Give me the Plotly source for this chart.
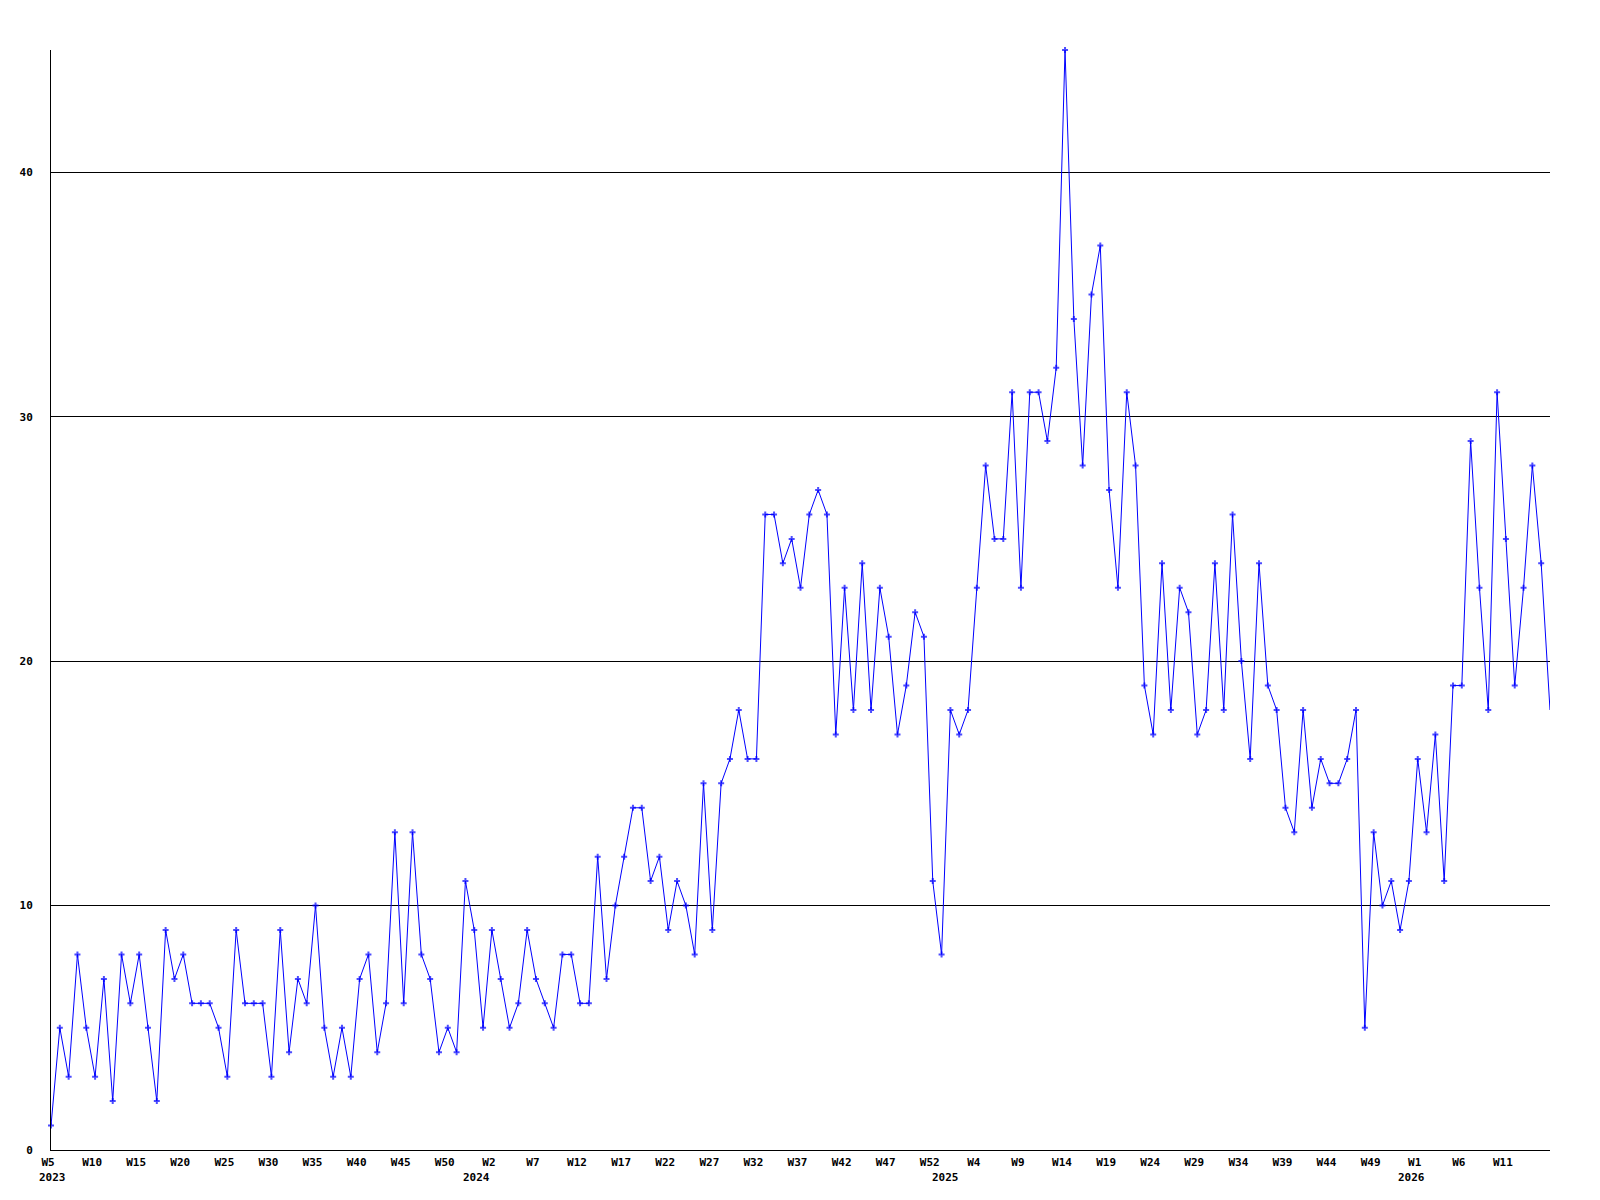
import plotly.graph_objects as go

values = [1, 5, 3, 8, 5, 3, 7, 2, 8, 6,
          8, 5, 2, 9, 7, 8, 6, 6, 6, 5,
          3, 9, 6, 6, 6, 3, 9, 4, 7, 6,
          10, 5, 3, 5, 3, 7, 8, 4, 6, 13,
          6, 13, 8, 7, 4, 5, 4, 11, 9, 5,
          9, 7, 5, 6, 9, 7, 6, 5, 8, 8,
          6, 6, 12, 7, 10, 12, 14, 14, 11, 12,
          9, 11, 10, 8, 15, 9, 15, 16, 18, 16,
          16, 26, 26, 24, 25, 23, 26, 27, 26, 17,
          23, 18, 24, 18, 23, 21, 17, 19, 22, 21,
          11, 8, 18, 17, 18, 23, 28, 25, 25, 31,
          23, 31, 31, 29, 32, 45, 34, 28, 35, 37,
          27, 23, 31, 28, 19, 17, 24, 18, 23, 22,
          17, 18, 24, 18, 26, 20, 16, 24, 19, 18,
          14, 13, 18, 14, 16, 15, 15, 16, 18, 5,
          13, 10, 11, 9, 11, 16, 13, 17, 11, 19,
          19, 29, 23, 18, 31, 25, 19, 23, 28, 24,
          18]

week_labels = ["W5", "W10", "W15", "W20", "W25", "W30", "W35", "W40", "W45", "W50",
               "W2", "W7", "W12", "W17", "W22", "W27", "W32", "W37", "W42", "W47", "W52",
               "W4", "W9", "W14", "W19", "W24", "W29", "W34", "W39", "W44", "W49",
               "W1", "W6", "W11"]
week_label_step = 5

year_labels = ["2023", "2024", "2025", "2026"]
year_positions = [0.2, 48.2, 101.4, 154.3]

y_ticks = [0, 10, 20, 30, 40]

x = list(range(len(values)))
tickvals = [i * week_label_step for i in range(len(week_labels))]

marker_sizes = [5] * len(values)
marker_sizes[-1] = 0

font_family = "DejaVu Sans Mono"

fig = go.Figure()
fig.add_trace(go.Scatter(
    x=x, y=values, mode="lines+markers",
    line=dict(color="#0000FF", width=1),
    marker=dict(symbol="cross", size=marker_sizes, color="#0000FF", line=dict(width=0)),
    cliponaxis=False,
    showlegend=False,
    hoverinfo="skip",
))

for lab, pos in zip(year_labels, year_positions):
    fig.add_annotation(
        x=pos, y=0, xref="x", yref="paper", yshift=-27,
        text=lab, showarrow=False, xanchor="center", yanchor="middle",
        font=dict(family=font_family, size=11, color="black", weight="bold"),
    )

fig.update_layout(
    width=1600, height=1200,
    margin=dict(l=43, r=58, t=42, b=58, autoexpand=False),
    paper_bgcolor="white", plot_bgcolor="white",
    font=dict(family=font_family, size=11, color="black", weight="bold"),
    xaxis=dict(
        range=[0, len(values) - 1],
        tickmode="array", tickvals=tickvals, ticktext=week_labels,
        showgrid=False, zeroline=False,
        showline=True, linecolor="black", linewidth=1,
        ticks="", tickangle=0, ticklabelshift=-3, ticklabelstandoff=2,
        tickfont=dict(family=font_family, size=11, color="black", weight="bold"),
    ),
    yaxis=dict(
        range=[0, 45],
        tickmode="array", tickvals=y_ticks, ticktext=[str(v) for v in y_ticks],
        showgrid=True, gridcolor="black", gridwidth=1,
        zeroline=False,
        showline=True, linecolor="black", linewidth=1,
        ticks="", ticklabelstandoff=15,
        tickfont=dict(family=font_family, size=11, color="black", weight="bold"),
    ),
)

fig.write_html("out.html")
